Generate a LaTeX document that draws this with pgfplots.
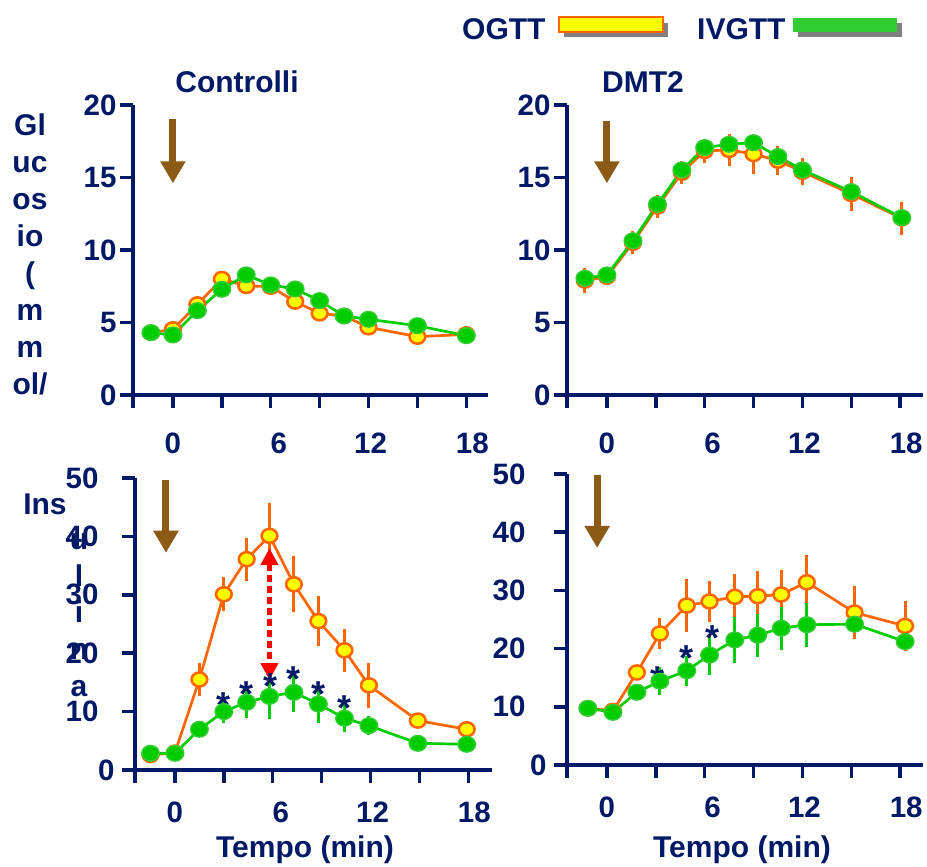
\documentclass[border=0pt]{standalone}
\usepackage{pgfplots}
\pgfplotsset{compat=1.18}
\usepackage{pgfplotstable}
\usepackage{fontspec}
\setmainfont{Liberation Sans}
\usetikzlibrary{arrows.meta}
\definecolor{navy}{RGB}{0,25,102}
\definecolor{og}{RGB}{255,102,0}
\definecolor{yel}{RGB}{255,255,0}
\definecolor{gr}{RGB}{0,204,0}
\definecolor{grb}{RGB}{51,204,51}
\definecolor{brn}{RGB}{139,90,20}
\definecolor{shd}{RGB}{128,128,128}

\pgfplotstableread{
x og iv
-1.35 4.30 4.30
0 4.53 4.14
1.5 6.25 5.82
3 8.00 7.29
4.5 7.52 8.28
6 7.47 7.59
7.5 6.44 7.31
9 5.63 6.51
10.5 5.45 5.45
12 4.67 5.22
15 4.02 4.78
18 4.18 4.09
}\tl
\pgfplotstableread{
x og oge iv
-1.35 7.89 0.85 8.05
0 8.16 0.0 8.28
1.6 10.50 0.8 10.64
3.1 13.00 0.8 13.15
4.6 15.33 0.8 15.52
6.0 16.83 0.8 17.06
7.5 16.90 1.1 17.29
9.0 16.62 1.4 17.40
10.5 16.16 1.0 16.44
12.0 15.40 0.95 15.52
15.0 13.86 1.15 14.02
18.1 12.18 1.15 12.23
}\tr
\pgfplotstableread{
x og oge iv ive
-1.5 2.57 0 2.86 0
0 2.97 0 2.86 0
1.5 15.5 2.8 6.97 0
3.0 30.1 2.9 10.0 1.9
4.4 36.1 3.7 11.6 2.7
5.8 40.1 5.7 12.6 3.8
7.3 31.8 4.8 13.3 3.4
8.8 25.5 4.3 11.3 3.2
10.4 20.5 3.7 8.86 2.4
11.9 14.5 3.8 7.6 1.6
14.9 8.46 0 4.57 0
17.9 6.97 0 4.4 0
}\bl
\pgfplotstableread{
x og oge iv ive
-1.17 9.74 0 9.74 0
0.37 9.3 0 9.05 0
1.84 15.9 0 12.5 0
3.25 22.6 2.7 14.4 2.4
4.9 27.4 4.6 16.2 2.6
6.3 28.1 3.6 18.9 3.5
7.85 28.9 4.0 21.5 3.9
9.26 29.0 4.4 22.3 3.7
10.7 29.3 4.2 23.5 3.7
12.27 31.4 4.6 24.1 3.8
15.2 26.2 4.5 24.2 0
18.3 23.9 4.3 21.2 0
}\br

\pgfplotsset{
  panel/.style={
    scale only axis, clip=false,
    axis lines*=left,
    axis line style={line width=3.5pt, navy},
    tick style={line width=3.5pt, navy},
    tick align=outside, tick pos=left,
    major tick length=13pt,
    xmin=-2.45,
    xtick={-2.45,0,3,6,9,12,15,18},
    xticklabels={,0,,\hspace{16pt}6,,\hspace{4pt}12,,\hspace{12pt}18},
    ticklabel style={font=\fontsize{29.5}{30}\selectfont\bfseries, text=navy},
    ymin=0,
  },
  ogtt/.style={og, line width=2.7pt, mark=*, mark size=7pt,
    mark options={fill=yel, draw=og, line width=2.6pt, xscale=1.12}},
  ivgtt/.style={gr, line width=2.7pt, mark=*, mark size=7.8pt,
    mark options={fill=gr, draw=grb, line width=1.5pt, xscale=1.12}},
  ebar/.style={error bars/.cd, y dir=both, y explicit, error mark=none,
    error bar style={line width=3pt, #1}},
}
\tikzset{
  big/.style={font=\fontsize{30}{36.9}\selectfont\bfseries, text=navy, inner sep=0pt},
  star/.style={font=\fontsize{36}{36}\selectfont\bfseries, text=navy, inner sep=0pt, anchor=north},
  brarrow/.style={brn, line width=7pt, -{Triangle[width=24pt,length=22pt]}},
}

\begin{document}
\begin{tikzpicture}
\useasboundingbox (0,0) rectangle (927pt,867pt);

% legend
\node[big, anchor=base west] at (462pt,827pt) {OGTT};
\fill[shd] (564pt,830pt) rectangle (668pt,844pt);
\filldraw[fill=yel, draw=og, line width=2pt] (559pt,835pt) rectangle (663pt,850pt);
\node[big, anchor=base west] at (697pt,827pt) {IVGTT};
\fill[shd] (798pt,830pt) rectangle (902pt,844pt);
\fill[grb] (793pt,835pt) rectangle (897pt,849pt);

% titles
\node[big, anchor=base] at (237pt,774pt) {Controlli};
\node[big, anchor=base] at (643pt,774pt) {DMT2};
\node[big, anchor=base] at (305pt,9pt) {Tempo (min)};
\node[big, anchor=base] at (742pt,9pt) {Tempo (min)};

% y labels
\node[big, anchor=north, align=center] at (30pt,753pt) {Gl\\uc\\os\\io\\(\\m\\m\\ol/};
\node[big, anchor=base] at (45pt,352pt) {Ins};
\node[big, anchor=base] at (79pt,317pt) {u};
\node[big, anchor=base] at (79pt,280pt) {l};
\node[big, anchor=base] at (79pt,244pt) {i};
\node[big, anchor=base] at (79pt,207pt) {n};
\node[big, anchor=base] at (79pt,170pt) {a};

% top left
\begin{axis}[panel, at={(133pt,472pt)}, anchor=south west,
  width=355pt, height=290pt, xmax=19.33, ymax=20,
  ytick={0,5,10,15,20}, yticklabels={0,5,10,15,20},
  xticklabel style={yshift=-21pt}]
\addplot[ogtt] table[x=x,y=og] {\tl};
\addplot[ivgtt] table[x=x,y=iv] {\tl};
\draw[brarrow] (axis cs:0,19.0) -- (axis cs:0,14.6);
\end{axis}

% top right
\begin{axis}[panel, at={(567pt,472pt)}, anchor=south west,
  width=356pt, height=290pt, xmax=19.4, ymax=20,
  ytick={0,5,10,15,20}, yticklabels={0,5,10,15,20},
  xticklabel style={yshift=-21pt}]
\addplot[ogtt, ebar=og] table[x=x,y=og,y error=oge] {\tr};
\addplot[ivgtt] table[x=x,y=iv] {\tr};
\draw[brarrow] (axis cs:0,18.9) -- (axis cs:0,14.6);
\end{axis}

% bottom left
\begin{axis}[panel, at={(135pt,97pt)}, anchor=south west,
  width=357pt, height=292pt, xmax=19.45, ymax=50,
  ytick={0,10,20,30,40,50}, yticklabels={0\kern-16pt,10,20,30,40,50},
  yticklabel style={xshift=-20pt},
  xticklabel style={yshift=-15pt}]
\addplot[ogtt, ebar=og] table[x=x,y=og,y error=oge] {\bl};
\addplot[ivgtt, ebar=gr] table[x=x,y=iv,y error=ive] {\bl};
\draw[brarrow] (axis cs:-0.55,49.7) -- (axis cs:-0.55,37.2);
\draw[red, line width=5pt, dash pattern=on 7pt off 4pt,
  {Triangle[width=17pt,length=17pt]}-{Triangle[width=17pt,length=17pt]}]
  (axis cs:5.8,38.0) -- (axis cs:5.8,15.4);
\node[star] at (axis cs:3.0,13.2) {*};
\node[star] at (axis cs:4.4,15.1) {*};
\node[star] at (axis cs:5.85,16.6) {*};
\node[star] at (axis cs:7.3,17.7) {*};
\node[star] at (axis cs:8.8,15.1) {*};
\node[star] at (axis cs:10.4,12.7) {*};
\end{axis}

% bottom right
\begin{axis}[panel, at={(567pt,102pt)}, anchor=south west,
  width=356pt, height=291pt, xmax=19.4, ymax=50,
  ytick={0,10,20,30,40,50}, yticklabels={0\kern-21pt,10,20,30,40,50},
  yticklabel style={xshift=-25pt},
  xticklabel style={yshift=-15pt}]
\addplot[ogtt, ebar=og] table[x=x,y=og,y error=oge] {\br};
\addplot[ivgtt, ebar=gr] table[x=x,y=iv,y error=ive] {\br};
\draw[brarrow] (axis cs:-0.6,49.8) -- (axis cs:-0.6,37.3);
\node[star] at (axis cs:3.1,17.0) {*};
\node[star] at (axis cs:4.9,20.5) {*};
\node[star] at (axis cs:6.5,23.9) {*};
\end{axis}
\end{tikzpicture}
\end{document}
